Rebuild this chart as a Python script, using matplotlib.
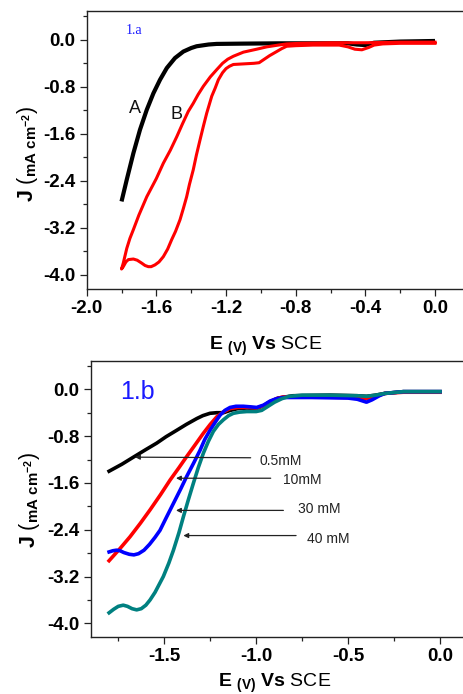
import matplotlib
matplotlib.use("Agg")
import matplotlib.pyplot as plt
from matplotlib.ticker import MultipleLocator, FormatStrFormatter

plt.rcParams['font.family'] = ['Liberation Sans', 'DejaVu Sans']
plt.rcParams['axes.unicode_minus'] = False
plt.rcParams['mathtext.fontset'] = 'custom'
plt.rcParams['mathtext.rm'] = 'Liberation Sans'
plt.rcParams['mathtext.bf'] = 'Liberation Sans:bold'
plt.rcParams['mathtext.it'] = 'Liberation Sans:italic'
plt.rcParams['mathtext.sf'] = 'Liberation Sans'

# ---------------- Panel 1.a data ----------------
a_E = [-1.80, -1.77, -1.732, -1.694, -1.655, -1.617, -1.579, -1.54, -1.493, -1.445,
       -1.40, -1.369, -1.30, -1.254, -1.1, -0.9, -0.7, -0.5, -0.45, -0.40, -0.35,
       -0.2, 0.0]
a_J = [-2.75, -2.38, -1.93, -1.53, -1.19, -0.91, -0.68, -0.48, -0.31, -0.20,
       -0.14, -0.11, -0.08, -0.07, -0.065, -0.06, -0.06, -0.06, -0.08, -0.09, -0.05,
       -0.03, -0.02]

# red CV loop: cathodic branch (0 -> -1.8) then anodic branch (-1.8 -> 0)
b_E = [0.0, -0.1, -0.2, -0.3, -0.35, -0.38, -0.42, -0.46, -0.50, -0.55, -0.7, -0.8,
       -0.852, -0.88, -0.909, -0.95, -0.99, -1.01, -1.04, -1.10, -1.158, -1.18, -1.20,
       -1.22, -1.244, -1.262, -1.282, -1.311, -1.33, -1.349, -1.37, -1.388, -1.41,
       -1.426, -1.445, -1.464, -1.49, -1.512, -1.535, -1.56, -1.585, -1.608, -1.63,
       -1.646, -1.665, -1.684, -1.71, -1.732, -1.761, -1.775, -1.79, -1.80,
       -1.79, -1.77, -1.752, -1.732, -1.70, -1.655, -1.60, -1.56, -1.52, -1.483,
       -1.45, -1.417, -1.388, -1.36, -1.33, -1.29, -1.254, -1.22, -1.19, -1.158,
       -1.10, -1.024, -0.966, -0.90, -0.852, -0.775, -0.6, -0.4, -0.2, 0.0]
b_J = [-0.06, -0.06, -0.06, -0.07, -0.09, -0.13, -0.17, -0.16, -0.12, -0.09, -0.09, -0.10,
       -0.11, -0.15, -0.20, -0.27, -0.35, -0.39, -0.40, -0.41, -0.42, -0.45, -0.49,
       -0.56, -0.68, -0.82, -0.96, -1.25, -1.47, -1.70, -1.96, -2.21, -2.46,
       -2.67, -2.87, -3.06, -3.26, -3.40, -3.56, -3.69, -3.78, -3.83, -3.86,
       -3.86, -3.84, -3.80, -3.75, -3.73, -3.74, -3.78, -3.86, -3.90,
       -3.80, -3.55, -3.38, -3.23, -2.98, -2.67, -2.36, -2.10, -1.88, -1.65,
       -1.43, -1.22, -1.08, -0.93, -0.79, -0.63, -0.51, -0.40, -0.33, -0.28,
       -0.21, -0.16, -0.12, -0.09, -0.07, -0.06, -0.05, -0.05, -0.04, -0.04]

# ---------------- Panel 1.b data ----------------
c05_E = [-1.80, -1.73, -1.668, -1.60, -1.541, -1.49, -1.432, -1.38, -1.323, -1.29,
         -1.251, -1.215, -1.178, -1.14, -1.10, -1.05, -1.0, -0.96, -0.92, -0.88,
         -0.8, -0.6, -0.45, -0.40, -0.35, -0.3, -0.2, 0.0]
c05_J = [-1.40, -1.28, -1.16, -1.03, -0.92, -0.81, -0.70, -0.60, -0.50, -0.45,
         -0.41, -0.40, -0.40, -0.36, -0.33, -0.32, -0.33, -0.28, -0.21, -0.15,
         -0.11, -0.10, -0.11, -0.12, -0.10, -0.07, -0.04, -0.04]

c10_E = [-1.80, -1.74, -1.686, -1.63, -1.577, -1.52, -1.468, -1.42, -1.378, -1.33,
         -1.287, -1.25, -1.214, -1.18, -1.142, -1.10, -1.05, -0.997, -0.96, -0.924,
         -0.89, -0.852, -0.7, -0.5, -0.45, -0.40, -0.35, -0.3, -0.2, 0.0]
c10_J = [-2.93, -2.72, -2.52, -2.29, -2.06, -1.80, -1.55, -1.34, -1.15, -0.94,
         -0.75, -0.60, -0.47, -0.39, -0.33, -0.31, -0.31, -0.32, -0.28, -0.21,
         -0.16, -0.13, -0.13, -0.14, -0.14, -0.16, -0.12, -0.07, -0.05, -0.05]

c30_E = [-1.80, -1.78, -1.76, -1.74, -1.72, -1.69, -1.665, -1.64, -1.61, -1.58,
         -1.55, -1.523, -1.49, -1.45, -1.41, -1.378, -1.34, -1.305, -1.28, -1.251,
         -1.22, -1.196, -1.17, -1.142, -1.11, -1.07, -1.03, -0.997, -0.96, -0.924,
         -0.89, -0.852, -0.7, -0.5, -0.45, -0.40, -0.37, -0.33, -0.3, -0.2, 0.0]
c30_J = [-2.78, -2.76, -2.75, -2.76, -2.79, -2.82, -2.83, -2.81, -2.75, -2.65,
         -2.53, -2.41, -2.20, -1.95, -1.70, -1.49, -1.26, -1.04, -0.86, -0.70,
         -0.55, -0.44, -0.36, -0.31, -0.29, -0.29, -0.30, -0.31, -0.27, -0.20,
         -0.16, -0.14, -0.14, -0.15, -0.17, -0.22, -0.18, -0.11, -0.07, -0.04, -0.04]

c40_E = [-1.80, -1.775, -1.75, -1.723, -1.70, -1.675, -1.65, -1.625, -1.60, -1.577,
         -1.55, -1.525, -1.505, -1.475, -1.45, -1.42, -1.396, -1.37, -1.342, -1.315,
         -1.287, -1.26, -1.233, -1.205, -1.178, -1.15, -1.124, -1.09, -1.051, -1.00,
         -0.97, -0.94, -0.90, -0.86, -0.82, -0.75, -0.6, -0.45, -0.40, -0.35, -0.3,
         -0.2, 0.0]
c40_J = [-3.82, -3.76, -3.71, -3.69, -3.71, -3.75, -3.77, -3.75, -3.69, -3.60,
         -3.47, -3.32, -3.20, -2.97, -2.75, -2.45, -2.18, -1.90, -1.61, -1.34,
         -1.09, -0.89, -0.72, -0.60, -0.52, -0.45, -0.41, -0.39, -0.38, -0.38,
         -0.36, -0.30, -0.22, -0.16, -0.12, -0.10, -0.10, -0.11, -0.12, -0.10, -0.07,
         -0.04, -0.04]

conc_labels = ['0.5mM', '10mM', '30 mM', '40 mM']
# arrow tail (E, J), head (E, J), text position (E, J)
arrow_tail = [(-1.03, -1.17), (-0.921, -1.52), (-0.852, -2.07), (-0.783, -2.50)]
arrow_head = [(-1.659, -1.16), (-1.436, -1.52), (-1.436, -2.07), (-1.396, -2.50)]
text_pos = [(-0.98, -1.23), (-0.852, -1.55), (-0.77, -2.05), (-0.721, -2.56)]

W, H = 463, 694
fig = plt.figure(figsize=(W / 100, H / 100), dpi=100)


def px_axes(l, t, r, b):
    return fig.add_axes([l / W, 1 - b / H, (r - l) / W, (b - t) / H])


def style(ax):
    for s in ['top', 'bottom', 'left', 'right']:
        ax.spines[s].set_linewidth(1.0)
        ax.spines[s].set_color('#222222')
    ax.tick_params(which='major', direction='out', length=5, width=0.9,
                   labelsize=13.5, pad=3, colors='#222222')
    ax.tick_params(which='minor', direction='out', length=3, width=0.9, colors='#222222')
    ax.yaxis.set_major_locator(MultipleLocator(0.8))
    ax.yaxis.set_minor_locator(MultipleLocator(0.4))
    ax.yaxis.set_major_formatter(FormatStrFormatter('%.1f'))
    ax.xaxis.set_major_formatter(FormatStrFormatter('%.1f'))
    for lab in ax.get_xticklabels() + ax.get_yticklabels():
        lab.set_fontweight('bold')
        lab.set_color('black')


ylab = r"$\mathbf{J}\ (_{\mathbf{mA\ cm}^{\mathbf{-2}}})$"
xlab = r"$\mathbf{E}$ $_{\mathbf{(V)}}$ $\mathbf{Vs}$ SCE"

# ---------- top panel ----------
ax1 = px_axes(86.7, 11, 470, 289)
ax1.plot(a_E, a_J, color='black', lw=3.0, solid_capstyle='butt')
ax1.plot(b_E, b_J, color='#ff0000', lw=2.2, solid_joinstyle='round')
ax1.set_xlim(-2.0, 0.201)
ax1.set_ylim(-4.24, 0.49)
ax1.xaxis.set_major_locator(MultipleLocator(0.4))
ax1.xaxis.set_minor_locator(MultipleLocator(0.2))
style(ax1)
ax1.text(-1.774, 0.10, '1.a', color='#1a1aff', fontsize=10, family='Liberation Serif')
ax1.text(-1.76, -1.24, 'A', fontsize=13, color='#111111')
ax1.text(-1.517, -1.345, 'B', fontsize=13, color='#111111')
fig.text(266 / W, 1 - 350 / H, xlab, fontsize=14, ha='center', va='baseline')
fig.text(27 / W, 1 - 154 / H, ylab, fontsize=15.5, rotation=90, ha='center', va='center')

# ---------- bottom panel ----------
ax2 = px_axes(90.7, 360.7, 470, 637)
ax2.plot(c05_E, c05_J, color='black', lw=2.6)
ax2.plot(c10_E, c10_J, color='#ff0000', lw=2.6)
ax2.plot(c30_E, c30_J, color='#0000ff', lw=2.6)
ax2.plot(c40_E, c40_J, color='#008080', lw=2.6)
ax2.set_xlim(-1.9, 0.163)
ax2.set_ylim(-4.234, 0.489)
ax2.xaxis.set_major_locator(MultipleLocator(0.5))
ax2.xaxis.set_minor_locator(MultipleLocator(0.25))
style(ax2)
ax2.text(-1.74, -0.17, '1.b', color='#1a1aff', fontsize=18)
for lab, tail, head, tp in zip(conc_labels, arrow_tail, arrow_head, text_pos):
    ax2.annotate('', xy=head, xytext=tail,
                 arrowprops=dict(arrowstyle='-|>', color='#222222', lw=0.9,
                                 mutation_scale=7, shrinkA=0, shrinkB=0))
    ax2.text(tp[0], tp[1], lab, fontsize=10, color='#222222', va='center', ha='left')
fig.text(275 / W, 1 - 687 / H, xlab, fontsize=14, ha='center', va='baseline')
fig.text(30 / W, 1 - 500 / H, ylab, fontsize=15.5, rotation=90, ha='center', va='center')

fig.savefig('out.png', dpi=100)
